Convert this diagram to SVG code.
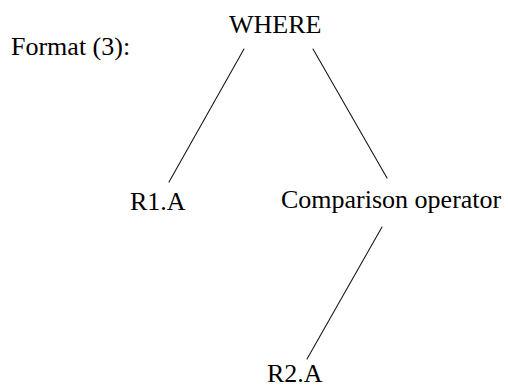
<svg xmlns="http://www.w3.org/2000/svg" width="508" height="387" viewBox="0 0 508 387">
  <style>
    text { font-family: 'Liberation Serif', serif; font-size: 26px; fill: #000; }
    .edge { stroke: #1a1a1a; stroke-width: 1.1; fill: none; stroke-linecap: round; }
  </style>
  <rect width="508" height="387" fill="#fff"/>
  <text x="11" y="55">Format (3):</text>
  <g id="connectors">
    <line class="edge" x1="244" y1="49" x2="169" y2="182"/>
    <line class="edge" x1="313" y1="49" x2="387" y2="178"/>
    <line class="edge" x1="382" y1="227" x2="307" y2="359"/>
  </g>
  <g id="node-where">
    <text x="229" y="33">WHERE</text>
  </g>
  <g id="node-r1a">
    <text x="130" y="210">R1.A</text>
  </g>
  <g id="node-comparison">
    <text x="281" y="208">Comparison operator</text>
  </g>
  <g id="node-r2a">
    <text x="267" y="382">R2.A</text>
  </g>
</svg>
